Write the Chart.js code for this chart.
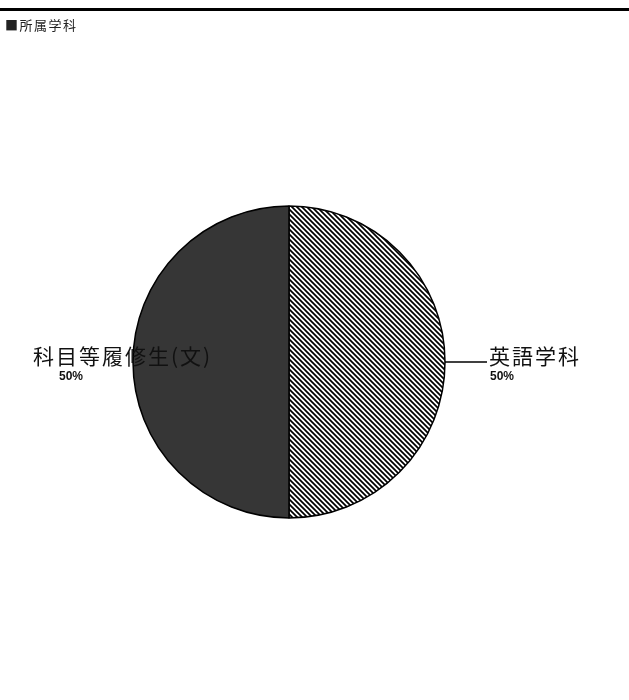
<!DOCTYPE html>
<html><head><meta charset="utf-8">
<script src="https://cdn.jsdelivr.net/npm/chart.js@4"></script>
<style>html,body{margin:0;padding:0;background:#fff;}#wrap{width:629px;height:700px;position:relative;}</style>
</head><body><div id="wrap"><canvas id="c" width="629" height="700"></canvas></div>
<script>
const title = '■所属学科';
const categories = ['英語学科', '科目等履修生(文)'];
const values = [50, 50];
const pctLabels = ['50%', '50%'];

function hatch() {
  const s = 5, p = document.createElement('canvas');
  p.width = s; p.height = s;
  const g = p.getContext('2d');
  g.fillStyle = '#fff'; g.fillRect(0, 0, s, s);
  g.strokeStyle = '#000'; g.lineWidth = 1.7;
  g.beginPath();
  g.moveTo(-1, -1); g.lineTo(s + 1, s + 1);
  g.moveTo(-1, s - 1); g.lineTo(1, s + 1);
  g.moveTo(s - 1, -1); g.lineTo(s + 1, 1);
  g.stroke();
  return g.createPattern(p, 'repeat');
}
const ctx0 = document.getElementById('c').getContext('2d');
const fills = [hatch(), '#363636'];

const deco = {
  id: 'deco',
  beforeDraw(chart) {
    const c = chart.ctx;
    c.save();
    c.fillStyle = '#000';
    c.fillRect(0, 8, 629, 3);
    c.font = '13px "Noto Sans CJK JP"';
    c.letterSpacing = '1.5px';
    c.textBaseline = 'middle';
    c.fillStyle = '#222';
    c.fillText(title, 5, 25);
    c.restore();
  },
  afterDraw(chart) {
    const c = chart.ctx;
    const arcs = chart.getDatasetMeta(0).data;
    c.save();
    const a0 = arcs[0];
    c.strokeStyle = '#000'; c.lineWidth = 1.5;
    c.beginPath();
    c.moveTo(a0.x + a0.outerRadius, a0.y);
    c.lineTo(a0.x + a0.outerRadius + 42, a0.y);
    c.stroke();
    c.fillStyle = '#111';
    c.textBaseline = 'alphabetic';
    c.font = '21px "Noto Sans CJK JP"';
    c.letterSpacing = '2px';
    c.fillText(categories[0], 489, 364);
    c.fillText(categories[1], 33, 364);
    c.letterSpacing = '0px';
    c.font = 'bold 12px "Liberation Sans"';
    c.fillText(pctLabels[0], 490, 380);
    c.fillText(pctLabels[1], 59, 380);
    c.restore();
  }
};

new Chart(ctx0, {
  type: 'pie',
  data: { labels: categories, datasets: [{ data: values, backgroundColor: fills, borderColor: '#000', borderWidth: 1.5, hoverOffset: 0 }] },
  options: {
    responsive: false, animation: false, events: [],
    layout: { padding: { left: 132.25, right: 183.25, top: 205.25, bottom: 181.25 } },
    plugins: { legend: { display: false }, tooltip: { enabled: false }, title: { display: false } }
  },
  plugins: [deco]
});
</script></body></html>
